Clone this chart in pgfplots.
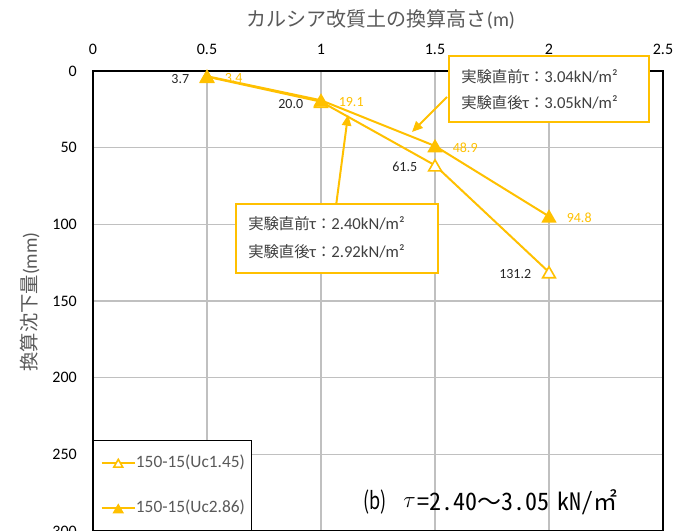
\documentclass[border=0pt]{standalone}
\usepackage{fontspec}
\setmainfont{Carlito}
\newfontfamily\cjk{Noto Sans CJK JP}
\newfontfamily\cjkhw[RawFeature=+hwid]{Noto Sans CJK JP}
\usepackage{graphicx}
\usepackage{pgfplots}
\pgfplotsset{compat=1.18}
\usetikzlibrary{arrows.meta}

\definecolor{gold}{HTML}{FFC000}
\definecolor{labgray}{HTML}{595959}
\definecolor{boxtext}{HTML}{404040}
\definecolor{gridgray}{HTML}{C0C0C0}
\definecolor{numdark}{HTML}{262626}

\pgfplotsset{/pgf/number format/assume math mode=true}

% Japanese text inside the callout boxes
\newcommand\bj[1]{{\fontsize{11.5}{13}\cjk #1}}

\begin{document}
\begin{tikzpicture}
\begin{axis}[
  at={(69.75pt,-53.25pt)}, anchor=north west,
  scale only axis, width=427.5pt, height=345pt,
  xmin=0, xmax=2.5, ymin=0, ymax=300,
  y dir=reverse,
  xtick={0,0.5,1,1.5,2,2.5},
  ytick={0,50,100,150,200,250,300},
  xticklabel pos=upper,
  major tick length=0pt,
  grid=major,
  major grid style={gridgray, line width=1pt},
  axis line style={black, line width=1.1pt},
  tick label style={font=\fontsize{12}{14}\selectfont, text=black},
  xticklabel style={inner sep=0pt, yshift=12pt},
  yticklabel style={inner sep=0pt, xshift=-12pt},
  clip=false,
  legend style={at={(0,0.198)}, anchor=north west, draw=black, line width=0.9pt,
    fill=white, font=\fontsize{13}{15}\selectfont, text=labgray,
    inner xsep=5.25pt, inner ysep=10.5pt, row sep=22pt,
    nodes={inner sep=0pt, text height=9.5pt, text depth=2.7pt}},
  legend cell align=left,
  legend image code/.code={
    \draw[#1, mark repeat=2, mark phase=2, /tikz/every mark/.append style={scale=0.7}]
      plot coordinates {(0pt,0pt) (12.5pt,0pt) (25pt,0pt)};},
]
% settlement, Uc = 1.45
\addplot[gold, line width=1.5pt, mark=triangle*, mark size=5.5pt,
  mark options={fill=white, draw=gold, line width=1.2pt, yshift=-1.4pt},
  point meta=y,
  nodes near coords={\pgfmathprintnumber[fixed,fixed zerofill,precision=1]{\pgfplotspointmeta}},
  nodes near coords style={anchor=east, xshift=-12.75pt, inner sep=0pt,
    font=\fontsize{10.5}{12}\selectfont, text=numdark},
] coordinates {(0.5,3.7) (1,20.0) (1.5,61.5) (2,131.2)};
\addlegendentry{150-15(Uc1.45)}
% settlement, Uc = 2.86
\addplot[gold, line width=1.5pt, mark=triangle*, mark size=5.5pt,
  mark options={fill=gold, draw=gold, line width=1.2pt, yshift=-1.4pt},
  point meta=y,
  nodes near coords={\pgfmathprintnumber[fixed,fixed zerofill,precision=1]{\pgfplotspointmeta}},
  nodes near coords style={anchor=west, xshift=12.75pt, inner sep=0pt,
    font=\fontsize{10.5}{12}\selectfont, text=gold},
] coordinates {(0.5,3.4) (1,19.1) (1.5,48.9) (2,94.8)};
\addlegendentry{150-15(Uc2.86)}
\end{axis}

% titles, callouts and caption, laid out on a 0.75pt grid
\begin{scope}[x=0.75pt, y=-0.75pt]
  \node[text=labgray, inner sep=0pt] at (381,19)
    {{\fontsize{15}{17}\cjk カルシア改質土の換算高さ}{\fontsize{15}{17}\selectfont (m)}};
  \node[text=labgray, inner sep=0pt, rotate=90] at (30,302)
    {{\fontsize{14.5}{16}\cjk 換算沈下量}{\fontsize{14.5}{16}\selectfont (mm)}};

  % callout: Uc2.86
  \draw[gold, line width=1.5pt, -{Triangle[length=8pt,width=7pt]}] (447,97) -- (412,132);
  \draw[gold, line width=1.5pt, fill=white] (449,56) rectangle (649,122);
  \node[anchor=west, inner sep=0pt, text=boxtext, font=\fontsize{12.5}{14}\selectfont]
    at (461,77) {\bj{実験直前}τ\bj{：}3.04kN/m²};
  \node[anchor=west, inner sep=0pt, text=boxtext, font=\fontsize{12.5}{14}\selectfont]
    at (461,103) {\bj{実験直後}τ\bj{：}3.05kN/m²};

  % callout: Uc1.45
  \draw[gold, line width=1.5pt, -{Triangle[length=8pt,width=7pt]}] (336,206) -- (348,115);
  \draw[gold, line width=1.5pt, fill=white] (236,204) rectangle (438,273);
  \node[anchor=west, inner sep=0pt, text=boxtext, font=\fontsize{12.5}{14}\selectfont]
    at (248,224) {\bj{実験直前}τ\bj{：}2.40kN/m²};
  \node[anchor=west, inner sep=0pt, text=boxtext, font=\fontsize{12.5}{14}\selectfont]
    at (248,252) {\bj{実験直後}τ\bj{：}2.92kN/m²};

  % caption
  \node[anchor=west, inner sep=0pt] at (363,502)
    {\scalebox{0.75}[1]{\fontsize{18}{20}\cjk (b)}};
  \node[anchor=west, inner sep=0pt] at (403,503) {\fontsize{18}{20}\selectfont$\tau$};
  \node[anchor=west, inner sep=0pt] at (417,502)
    {\fontsize{18}{20}\selectfont{\cjkhw =2.40}{\cjk ～}{\cjkhw 3.05}\hspace{6pt}{\cjkhw kN/}{\cjk ㎡}};

  \pgfresetboundingbox
  \useasboundingbox (0,0) rectangle (689,531);
\end{scope}
\end{tikzpicture}
\end{document}
